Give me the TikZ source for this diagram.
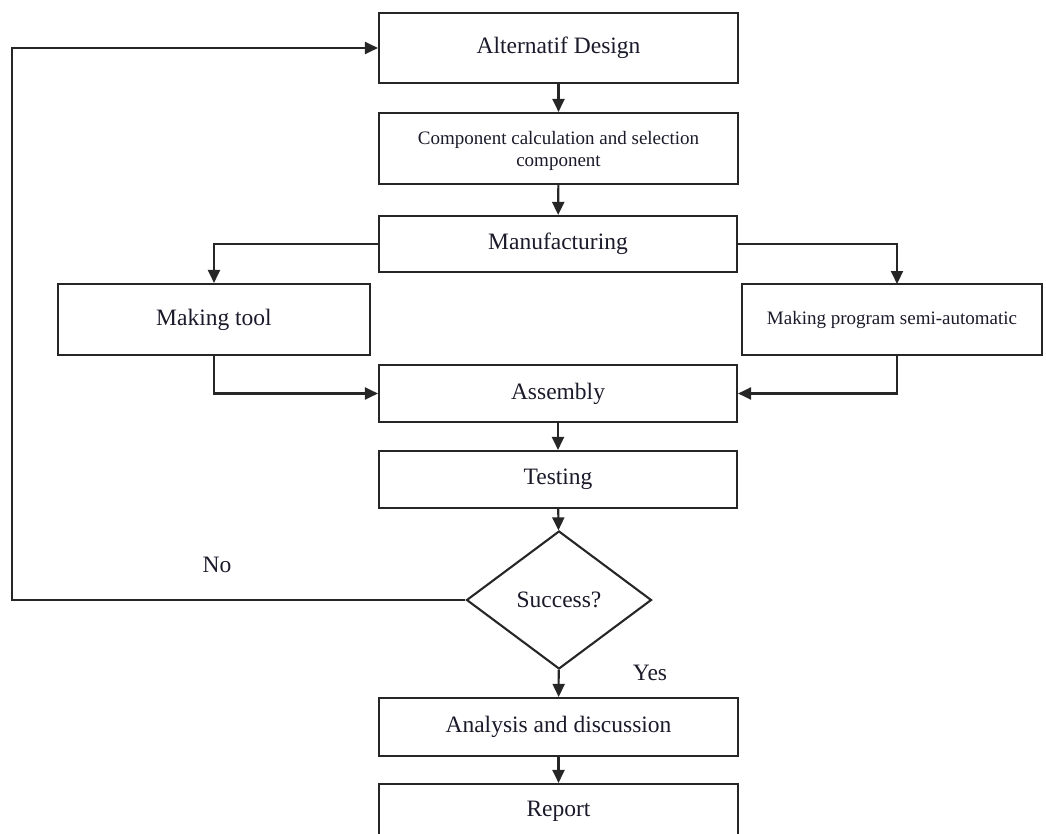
\documentclass[tikz,border=0pt]{standalone}
\usepackage{fontspec}
\setmainfont{Liberation Serif}
\usetikzlibrary{arrows.meta,shapes.geometric}
\definecolor{linec}{HTML}{262626}
\definecolor{textc}{HTML}{1A1A2A}
\tikzset{
  box/.style={draw=linec, line width=2.1pt, rectangle, inner sep=0pt, text=textc, font=\fontsize{23.5}{26}\selectfont, align=center},
  smallbox/.style={box, font=\fontsize{19}{22}\selectfont},
  decision/.style={draw=linec, line width=2.1pt, diamond, inner sep=0pt, text=textc, font=\fontsize{23.5}{26}\selectfont},
  conn/.style={draw=linec, line width=2.1pt, -{Triangle[width=12pt,length=13pt]}},
  lbl/.style={text=textc, font=\fontsize{23.5}{26}\selectfont, inner sep=0pt},
  smalllbl/.style={text=textc, font=\fontsize{19}{22}\selectfont, inner sep=0pt, align=center}
}
\begin{document}
\begin{tikzpicture}[x=1pt,y=-1pt]
\useasboundingbox (0,0) rectangle (1046,834);
\clip (0,0) rectangle (1046,834);
\node[box, minimum width=359pt, minimum height=70pt] (alt) at (558.5,48) {Alternatif Design};
\node[box, minimum width=359pt, minimum height=71pt] (comp) at (558.5,148.5) {};
\node[smalllbl] (comptxt) at (558.5,151) {Component calculation and selection\\component};
\node[box, minimum width=358pt, minimum height=56pt] (manu) at (558,244) {Manufacturing};
\node[box, minimum width=312pt, minimum height=71pt] (tool) at (214,319.5) {Making tool};
\node[smallbox, minimum width=300pt, minimum height=71pt] (prog) at (892,319.5) {Making program semi-automatic};
\node[box, minimum width=358pt, minimum height=57pt] (asm) at (558,393.5) {Assembly};
\node[box, minimum width=358pt, minimum height=57pt] (test) at (558,479.5) {Testing};
\node[decision, minimum width=185pt, minimum height=138pt] (dia) at (559,600) {Success?};
\node[box, minimum width=359pt, minimum height=58pt] (ana) at (558.5,727) {Analysis and discussion};
\node[box, minimum width=359pt, minimum height=80pt] (rep) at (558.5,824) {};
\node[lbl] (reptxt) at (558.5,811) {Report};
\node[lbl] (no) at (217,565) {No};
\node[lbl] (yes) at (650,673) {Yes};
\coordinate (fb) at (12,600);
\coordinate (progtop) at (897,284);
\coordinate (progbot) at (897,355);
\draw[conn] (alt) -- (comp);
\draw[conn] (comp) -- (manu);
\draw[conn] (manu.west) -| (tool.north);
\draw[conn] (manu.east) -| (progtop);
\draw[conn] (tool.south) |- (asm.west);
\draw[conn] (progbot) |- (asm.east);
\draw[conn] (asm) -- (test);
\draw[conn] (test) -- (dia);
\draw[conn] (dia) -- (ana);
\draw[conn] (ana) -- (rep);
\draw[conn] (dia.west) -- (fb) |- (alt.west);
\end{tikzpicture}
\end{document}
